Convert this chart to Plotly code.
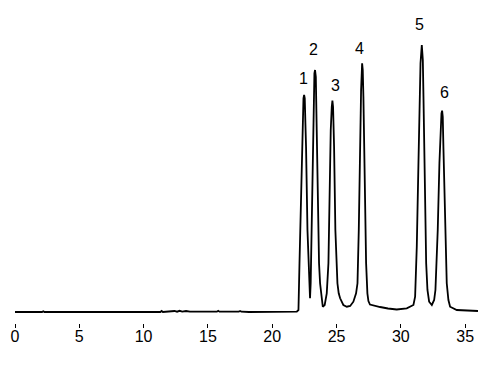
import plotly.graph_objects as go

# Retention time (min) and detector signal (relative units)
time_min = [0.0, 2.1, 2.2, 2.3, 11.3, 11.4, 11.5, 12.2, 12.4, 12.6, 12.8, 13.0, 13.3, 13.6,
            15.7, 15.8, 15.9, 17.4, 17.5, 17.6, 18.2, 21.91,
            22.04, 22.12, 22.22, 22.30, 22.37, 22.43, 22.48, 22.53, 22.58, 22.63, 22.74, 22.84, 22.89, 22.94,
            22.99, 23.07, 23.15, 23.23, 23.28, 23.33, 23.39, 23.46, 23.57, 23.64, 23.72, 23.83, 23.93,
            24.08, 24.24, 24.37, 24.45, 24.55, 24.63, 24.68, 24.73, 24.81, 24.91, 24.99, 25.07, 25.17, 25.28,
            25.53, 25.80, 26.06, 26.31, 26.52, 26.63, 26.73, 26.83, 26.91, 26.99, 27.04, 27.09, 27.19, 27.30,
            27.40, 27.48, 27.60, 28.00, 28.39, 29.00, 29.68, 30.46, 30.98,
            31.11, 31.24, 31.37, 31.45, 31.53, 31.63, 31.71, 31.76, 31.86, 31.97, 32.07, 32.20, 32.41,
            32.59, 32.69, 32.80, 32.87, 33.00, 33.08, 33.16, 33.21, 33.26, 33.31, 33.44, 33.52, 33.57,
            33.70, 33.83, 34.35, 36.0]
signal = [0.0, 0.0, 0.8, 0.0, 0.0, 1.0, 0.0, 0.5, 1.0, 0.3, 1.2, 0.4, 1.0, 0.3,
          0.3, 1.2, 0.3, 0.3, 1.0, 0.3, 0.0, 0.3,
          2.0, 48.7, 98.7, 165.3, 198.7, 213.7, 217.0, 213.7, 188.7, 165.3, 82.0, 35.3, 22.0, 13.7,
          28.7, 82.0, 165.3, 215.3, 238.7, 242.0, 235.3, 182.0, 82.0, 48.7, 28.7, 12.0, 5.3,
          7.0, 18.7, 48.7, 115.3, 182.0, 205.3, 211.3, 205.3, 165.3, 82.0, 45.3, 28.7, 18.7, 13.7,
          7.0, 5.3, 6.0, 10.3, 18.7, 28.7, 82.0, 165.3, 222.0, 248.7, 242.0, 215.3, 115.3, 48.7,
          18.7, 11.0, 7.5, 6.0, 5.0, 3.5, 2.5, 3.7, 7.0,
          15.3, 65.3, 148.7, 208.7, 248.7, 267.0, 252.0, 215.3, 115.3, 48.7, 22.0, 10.3, 7.0,
          12.0, 22.0, 52.0, 82.0, 148.7, 182.0, 198.7, 201.3, 195.3, 165.3, 82.0, 48.7, 28.7,
          12.0, 5.3, 2.0, 1.0]

# Peak labels
peak_names = ["1", "2", "3", "4", "5", "6"]
peak_label_x = [22.40, 23.18, 24.89, 26.76, 31.45, 33.37]
peak_label_y = [234, 263, 227, 264, 288, 220]

tick_values = [0, 5, 10, 15, 20, 25, 30, 35]
x_title = "min"

fig = go.Figure()
fig.add_trace(go.Scatter(x=time_min, y=signal, mode="lines",
                         line=dict(color="black", width=1.8), hoverinfo="skip"))

for name, px_, py_ in zip(peak_names, peak_label_x, peak_label_y):
    fig.add_annotation(x=px_, y=py_, xref="x", yref="y", text=name, showarrow=False,
                       xanchor="center", yanchor="middle",
                       font=dict(family="Liberation Sans Narrow, Arial Narrow, Liberation Sans, Arial",
                                 size=16, color="black"))

fig.add_annotation(x=18.5, y=-50, xref="x", yref="y", text=x_title, showarrow=False,
                   xanchor="center", yanchor="middle",
                   font=dict(family="Liberation Sans, Arial", size=16, color="black"))

fig.update_layout(
    width=491, height=378,
    margin=dict(l=15, r=13, t=10, b=55),
    paper_bgcolor="white", plot_bgcolor="white",
    showlegend=False,
    font=dict(family="Liberation Sans Narrow, Arial Narrow, Liberation Sans, Arial", size=16, color="black"),
)
fig.update_xaxes(range=[0, 36], tickvals=tick_values, ticktext=[str(t) for t in tick_values],
                 ticks="outside", ticklen=4, tickwidth=1, tickcolor="black",
                 ticklabelstandoff=-5,
                 showline=False, showgrid=False, zeroline=False,
                 tickfont=dict(size=16, color="black"))
fig.update_yaxes(range=[-11, 302], visible=False, showgrid=False, zeroline=False)

fig.write_html("out.html")
